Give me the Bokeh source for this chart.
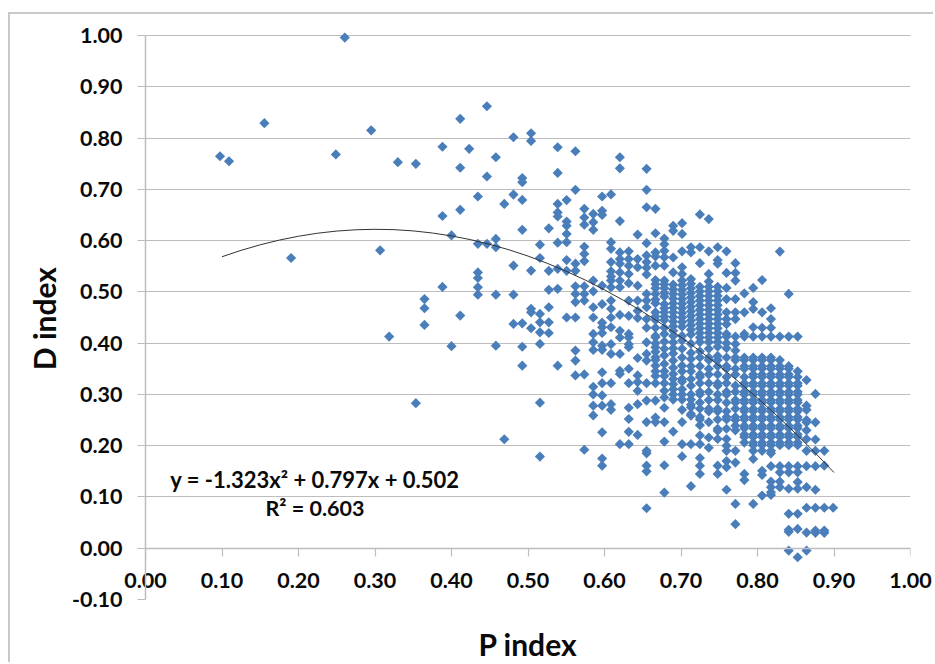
from math import pi
from bokeh.embed import file_html
from bokeh.models import ColumnDataSource, FixedTicker, Label, LinearAxis, NumeralTickFormatter, Range1d
from bokeh.plotting import figure
from bokeh.resources import INLINE

x_ticks = [0.0, 0.1, 0.2, 0.3, 0.4, 0.5, 0.6, 0.7, 0.8, 0.9, 1.0]
y_ticks = [-0.1, 0.0, 0.1, 0.2, 0.3, 0.4, 0.5, 0.6, 0.7, 0.8, 0.9, 1.0]

outlier_x = [.0974, .1092, .1554, .1903, .2488, .2605, .2950, .3067, .3185, .3299, .3534, .3534,
             .3647, .3647, .3647, .3882, .3882, .3882, .400, .400, .4114, .4114, .4114, .4114, .4231]
outlier_y = [.7645, .7547, .829, .566, .768, .996, .815, .581, .4127, .753, .7497, .283,
             .486, .468, .4355, .783, .648, .5096, .610, .394, .8375, .742, .660, .4537, .779]

columns = {
    .4345: [.686, .5936, .538, .527, .509, .4946],
    .4463: [.862, .725, .5936],
    .458: [.7626, .6033, .587, .4946, .395],
    .469: [.6716, .2125],
    .481: [.8016, .6898, .5512, .4946, .4375],
    .4925: [.722, .714, .6794, .621, .4387, .393, .356],
    .504: [.8094, .7944, .5415, .467, .46, .429],
    .5156: [.592, .566, .457, .4406, .421, .3984, .2838, .1787],
    .5272: [.624, .541, .504, .47, .4406, .4198],
    .5388: [.782, .732, .6716, .655, .647, .596, .545, .506, .356],
    .5505: [.679, .637, .629, .613, .597, .562, .541, .45],
    .562: [.7743, .699, .555, .541, .511, .496, .48, .45, .3854, .366, .337],
    .5736: [.662, .645, .631, .588, .574, .560, .511, .496, .483, .339, .192],
    .5853: [.652, .636, .621, .522, .501, .47, .45, .418, .4016, .3867, .315, .3, .278, .259],
    .5969: [.686, .658, .65, .512, .476, .44, .431, .42, .395, .387, .343, .322, .298, .278, .226, .175, .161],
    .6085: [.69, .597, .584, .558, .54, .53, .522, .509, .483, .467, .45, .431, .398, .379, .322, .281, .27],
    .6201: [.7626, .741, .638, .577, .564, .555, .538, .522, .509, .455, .424, .411, .379, .346, .34, .203],
    .6317: [.579, .564, .551, .535, .517, .483, .453, .418, .411, .398, .392, .35, .322, .274, .252, .227, .203],
    .6433: [.6117, .564, .548, .512, .483, .463, .449, .371, .337, .324, .307, .281, .221],
    .655: [.74, .699, .665, .595, .571, .558, .547, .534, .496, .483, .47, .447, .43, .4016, .379, .366, .322, .288, .246, .19, .185, .161, .15, .078],
    .6666: [.662, .6143, .577, .569, .551, .523, .515, .507, .496, .485, .478, .46, .452, .445, .43, .414, .4114, .40, .392, .383, .3724, .367, .356, .345, .336, .322, .288, .255, .246],
    .6782: [.604, .593, .58, .5675, .551, .522, .515, .507, .498, .491, .476, .468, .46, .452, .445, .43, .418, .403, .389, .376, .3594, .345, .336, .322, .307, .294, .274, .246, .208, .1618, .1085],
    .6898: [.629, .619, .567, .538, .514, .505, .496, .487, .478, .469, .46, .451, .442, .433, .424, .414, .4016, .39, .38, .366, .352, .34, .33, .32, .31, .30, .29, .2275],
    .7014: [.634, .613, .579, .548, .535, .522, .513, .504, .495, .486, .477, .468, .459, .45, .441, .432, .414, .405, .389, .372, .356, .345, .33, .325, .31, .30, .29, .27, .246, .203, .179],
    .713: [.587, .577, .525, .516, .507, .498, .489, .48, .471, .462, .453, .444, .435, .426, .417, .399, .381, .369, .355, .345, .33, .317, .30, .29, .28, .275, .262, .2587, .203, .121],
    .7247: [.651, .587, .556, .51, .501, .492, .483, .474, .465, .456, .447, .438, .429, .42, .411, .402, .384, .372, .355, .339, .334, .322, .305, .30, .284, .272, .256, .251, .24, .22, .203, .176, .161, .145],
    .7363: [.642, .579, .535, .52, .51, .501, .492, .483, .474, .465, .456, .447, .438, .429, .42, .411, .402, .389, .372, .367, .35, .339, .322, .305, .289, .272, .267, .246, .216, .196],
    .7479: [.587, .562, .555, .51, .501, .492, .483, .474, .465, .456, .447, .438, .429, .42, .411, .402, .393, .375, .367, .355, .339, .322, .317, .3, .289, .272, .267, .251, .233, .229, .213, .161, .145],
    .7595: [.579, .537, .5077, .486, .46, .447, .437, .418, .4128, .4, .39, .372, .355, .35, .334, .322, .305, .3, .284, .267, .256, .251, .233, .213, .2, .19, .17, .158, .114],
    .7711: [.556, .537, .522, .486, .46, .447, .4128, .3985, .3855, .372, .367, .35, .339, .317, .305, .289, .284, .272, .256, .25, .239, .23, .19, .167, .0864, .047],
    .7828: [.497, .46, .418, .4128, .372, .367, .355, .35, .334, .322, .317, .305, .3, .289, .284, .272, .267, .256, .251, .239, .234, .222, .217, .206, .145, .133],
    .7944: [.5077, .48, .4668, .431, .4128, .372, .367, .355, .35, .339, .334, .322, .317, .305, .3, .289, .284, .272, .267, .256, .251, .239, .234, .222, .217, .206, .201, .19, .174, .0864],
    .806: [.523, .46, .43, .4128, .372, .367, .355, .35, .339, .334, .322, .317, .305, .3, .289, .284, .272, .267, .256, .251, .239, .234, .222, .217, .206, .201, .19, .151, .143, .1026],
    .8176: [.468, .447, .43, .4128, .372, .367, .355, .35, .339, .334, .322, .317, .305, .3, .289, .284, .272, .267, .256, .251, .239, .234, .222, .217, .206, .201, .19, .185, .16, .13, .119, .109, .104],
    .8292: [.5785, .4128, .367, .355, .35, .339, .334, .322, .317, .305, .3, .289, .284, .272, .267, .256, .251, .239, .234, .222, .217, .206, .201, .16, .148, .13, .119],
    .8408: [.496, .4128, .355, .35, .339, .334, .322, .317, .305, .3, .289, .284, .272, .267, .256, .251, .239, .234, .222, .217, .206, .201, .16, .148, .116, .067, .036, .032, -.0046],
    .8525: [.4128, .345, .334, .322, .317, .305, .3, .289, .284, .272, .267, .256, .251, .239, .234, .222, .217, .206, .201, .16, .148, .129, .116, .067, .0377, -.0176],
    .8641: [.328, .278, .27, .25, .2456, .23, .213, .19, .16, .119, .079, .0305, -.0046],
    .8757: [.301, .2456, .212, .19, .16, .114, .079, .0344, .03],
    .8873: [.19, .161, .079, .0344, .03],
    .8989: [.079],
}

trend_x = [.10, .125, .15, .175, .20, .225, .25, .275, .30, .325, .35, .375, .40, .425, .45, .475, .50,
           .525, .55, .575, .60, .625, .65, .675, .70, .725, .75, .775, .80, .825, .85, .875, .90]
trend_y = [.5685, .5810, .5918, .6010, .6085, .6144, .6186, .6211, .6220, .6213, .6189, .6148, .6091, .6018, .5927, .5821, .5698,
           .5558, .5401, .5229, .5039, .4833, .4611, .4372, .4116, .3844, .3556, .3251, .2929, .2591, .2236, .1865, .1477]

equation_text = "y = -1.323x² + 0.797x + 0.502"
r2_text = "R² = 0.603"
x_title = "P index"
y_title = "D index\u00a0"

FONT = "Lato"
GRAY = "#bdbdbd"
INK = "#0a0a0a"

xs = list(outlier_x)
ys = list(outlier_y)
for cx, vals in columns.items():
    xs.extend([cx] * len(vals))
    ys.extend(vals)

p = figure(width=925, height=650, output_backend="svg", toolbar_location=None,
           x_range=Range1d(0, 1), y_range=Range1d(-0.1, 1.00975),
           min_border_left=135, min_border_right=25, min_border_top=16, min_border_bottom=65,
           background_fill_color="white", border_fill_color="white",
           styles={"margin-left": "8px", "margin-top": "12px",
                   "border-left": "2px solid #c8c8c8", "border-top": "2px solid #c8c8c8"})
p.outline_line_color = None

p.xgrid.visible = False
p.ygrid.ticker = FixedTicker(ticks=y_ticks)
p.ygrid.grid_line_color = GRAY
p.ygrid.grid_line_width = 1.2

# bottom-panel axis: tick labels (pulled up beside the zero line) and the title
bottom = p.xaxis[0]
bottom.ticker = FixedTicker(ticks=x_ticks)
bottom.formatter = NumeralTickFormatter(format="0.00")
bottom.axis_line_color = None
bottom.major_tick_line_color = None
bottom.minor_tick_line_color = None
bottom.major_tick_in = 0
bottom.major_tick_out = 0
bottom.major_label_standoff = -27
bottom.major_label_text_font = FONT
bottom.major_label_text_font_style = "bold"
bottom.major_label_text_font_size = "21.5px"
bottom.major_label_text_color = INK
bottom.axis_label = x_title
bottom.axis_label_text_font = FONT
bottom.axis_label_text_font_style = "bold"
bottom.axis_label_text_font_size = "30px"
bottom.axis_label_text_color = INK
bottom.axis_label_standoff = 35

# line and ticks at y = 0
zero = LinearAxis(fixed_location=0, ticker=FixedTicker(ticks=x_ticks))
zero.axis_line_color = GRAY
zero.axis_line_width = 1.5
zero.major_tick_line_color = GRAY
zero.major_tick_line_width = 1.2
zero.major_tick_out = 8
zero.major_tick_in = 0
zero.minor_tick_line_color = None
zero.major_label_text_color = None
zero.major_label_text_font_size = "1px"
p.add_layout(zero, "below")

left = p.yaxis[0]
left.ticker = FixedTicker(ticks=y_ticks)
left.formatter = NumeralTickFormatter(format="0.00")
left.bounds = (-0.1, 1.0)
left.axis_line_color = GRAY
left.axis_line_width = 1.5
left.major_tick_line_color = GRAY
left.major_tick_line_width = 1.2
left.major_tick_out = 8
left.major_tick_in = 0
left.minor_tick_line_color = None
left.major_label_standoff = 15
left.major_label_text_font = FONT
left.major_label_text_font_style = "bold"
left.major_label_text_font_size = "21.5px"
left.major_label_text_color = INK
left.axis_label = y_title
left.axis_label_text_font = FONT
left.axis_label_text_font_style = "bold"
left.axis_label_text_font_size = "30px"
left.axis_label_text_color = INK
left.axis_label_standoff = 7

src = ColumnDataSource(data=dict(x=xs, y=ys))
p.scatter("x", "y", source=src, marker="square", size=7.2, angle=pi / 4,
          fill_color="#4a7ebb", line_color=None)
p.line(trend_x, trend_y, line_color="#333333", line_width=1)

for txt, lx, ly, fs in ((equation_text, .2215, .134, "22px"), (r2_text, .2215, .078, "21.5px")):
    p.add_layout(Label(x=lx, y=ly, text=txt, text_font=FONT, text_font_style="bold",
                       text_font_size=fs, text_color=INK,
                       text_align="center", text_baseline="middle"))

open("out.html", "w").write(file_html(p, INLINE))
